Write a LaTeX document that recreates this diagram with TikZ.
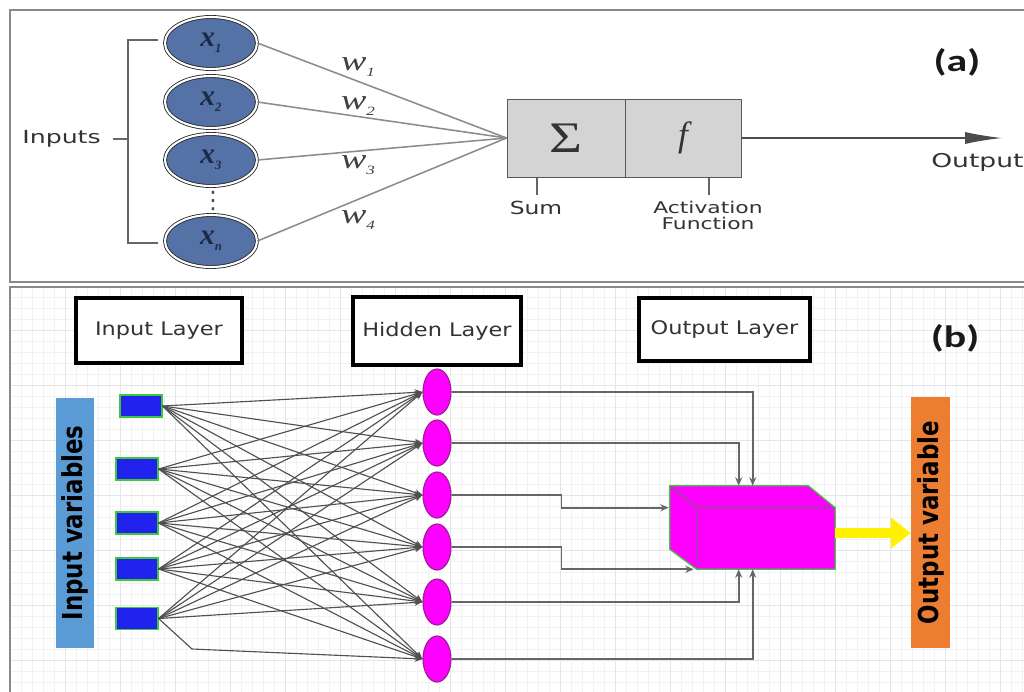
\documentclass[tikz,border=0pt]{standalone}
\usepackage{fontspec}
\setmainfont{DejaVu Sans}
\newfontfamily\carlfont{Carlito}
\newfontfamily\serfont{Liberation Serif}
\usetikzlibrary{arrows.meta,shapes.geometric,calc}
\definecolor{panelgray}{HTML}{8A8A8A}
\definecolor{nodeblue}{HTML}{5572A6}
\definecolor{xtext}{HTML}{1C2A48}
\definecolor{wirea}{HTML}{8C8C8C}
\definecolor{cellgray}{HTML}{D4D4D4}
\definecolor{sqblue}{HTML}{2222EE}
\definecolor{sqgreen}{HTML}{3CC83C}
\definecolor{hidmag}{HTML}{FF00FF}
\definecolor{hidedge}{HTML}{9A2090}
\definecolor{barblue}{HTML}{5B9BD5}
\definecolor{barorange}{HTML}{ED7D31}
\definecolor{wireb}{HTML}{505050}
\definecolor{gridminor}{HTML}{F2F2F2}
\definecolor{gridmajor}{HTML}{E6E6E6}
\definecolor{txt}{HTML}{333333}
\definecolor{boxedge}{HTML}{8A4E8A}
\newcommand{\myxs}[2]{\scalebox{#1}[1]{#2}}
\newcommand{\mysz}[1]{\fontsize{#1}{#1}\selectfont}
\newcommand{\xlab}[1]{{\serfont\bfseries\itshape\mysz{21}x\raisebox{-0.45ex}{\mysz{9}#1}}}
\newcommand{\wlab}[1]{\myxs{1.35}{\serfont\itshape\mysz{20}w\raisebox{-0.45ex}{\mysz{9}#1}}}
\tikzset{
  panelline/.style={draw=panelgray, line width=1.6pt},
  xin/.style={shape=ellipse, minimum width=2.3cm, minimum height=1.3cm, fill=nodeblue, draw=black!85, line width=0.6pt, double=white, double distance=1.5pt, inner sep=0pt, text=xtext},
  wa/.style={draw=wirea, line width=1.1pt},
  cellbox/.style={shape=rectangle, fill=cellgray, draw=black!65, line width=0.7pt, minimum height=1.95cm, inner sep=0pt, text=txt},
  tickline/.style={draw=black!60, line width=0.9pt},
  lbla/.style={text=txt, inner sep=0pt},
  wlbl/.style={text=black!75, inner sep=0pt},
  layerbox/.style={draw=black, line width=2.2pt, fill=white, minimum height=1.625cm, inner sep=0pt, text=txt},
  sqnode/.style={shape=rectangle, fill=sqblue, draw=sqgreen, line width=0.8pt, minimum width=1.05cm, minimum height=0.55cm, inner sep=0pt},
  hidnode/.style={shape=ellipse, fill=hidmag, draw=hidedge, line width=0.8pt, minimum width=0.7cm, minimum height=1.15cm, inner sep=0pt},
  wb/.style={draw=wireb, line width=0.8pt, -{Stealth[length=5.5pt,width=4.5pt]}},
  wo/.style={draw=black!60, line width=1.2pt, -{Stealth[length=6pt,width=5pt]}},
  barnode/.style={shape=rectangle, minimum width=6.25cm, minimum height=0.97cm, inner sep=0pt, rotate=90, text=black},
}
\begin{document}
\begin{tikzpicture}[x=0.025cm,y=-0.025cm]
\useasboundingbox (0,0) rectangle (1024,691);
\clip (0,0) rectangle (1024,691);
\fill[white] (0,0) rectangle (1024,691);

% ---------- panel (a) ----------
\draw[panelline] (1040,10) -- (10,10) -- (10,282) -- (1040,282);

\node[xin] (x1) at (211,43) {\xlab{1}};
\node[xin] (x2) at (211,102) {\xlab{2}};
\node[xin] (x3) at (211,160) {\xlab{3}};
\node[xin] (xn) at (211,241) {\xlab{n}};
\node[text=black!70, inner sep=0pt] (dots) at (213,201) {\mysz{17}⋮};

\coordinate (bt) at (158,40);
\coordinate (bb) at (158,243);
\draw[tickline] (bt) -- (128,40) -- (128,243) -- (bb);
\coordinate (bm) at (128,139);
\coordinate (bl) at (113,139);
\draw[tickline] (bm) -- (bl);
\node[lbla, anchor=east] (inp) at (101,139) {\myxs{1.4}{\mysz{12.8}Inputs}};

\node[cellbox, minimum width=2.95cm] (sc) at (566,138) {\myxs{1.3}{\serfont\mysz{31}Σ}};
\node[cellbox, minimum width=2.9cm] (ac) at (683,138) {\serfont\itshape\mysz{25}f};

\draw[wa] (x1.east) -- (sc.west);
\draw[wa] (x2.east) -- (sc.west);
\draw[wa] (x3.east) -- (sc.west);
\draw[wa] (xn.east) -- (sc.west);

\node[wlbl] (w1) at (358,67) {\wlab{1}};
\node[wlbl] (w2) at (358,106) {\wlab{2}};
\node[wlbl] (w3) at (358,165) {\wlab{3}};
\node[wlbl] (w4) at (358,220) {\wlab{4}};

\coordinate (st) at (537,195);
\draw[tickline] (sc.south -| st) -- (st);
\node[lbla] (sum) at (536,208) {\myxs{1.3}{\mysz{12.8}Sum}};
\coordinate (at) at (709,195);
\draw[tickline] (ac.south -| at) -- (at);
\node[lbla] (act1) at (708,207) {\myxs{1.35}{\mysz{11.5}Activation}};
\node[lbla] (act2) at (708,223) {\myxs{1.35}{\mysz{11.5}Function}};

\coordinate (outa) at (1002,138);
\draw[draw=black!70, line width=1pt, -{Latex[length=0.92cm,width=0.3cm]}] (ac.east) -- (outa);
\node[lbla, anchor=west] (outl) at (931,162) {\myxs{1.4}{\mysz{13.5}Output}};

\node[inner sep=0pt, text=black!90] (la) at (957,62) {\myxs{1.35}{\carlfont\bfseries\mysz{22}(a)}};

% ---------- panel (b) ----------
\begin{scope}
\clip (11,288) rectangle (1024,691);
\draw[gridminor, line width=0.4pt, xshift=0.25cm] (-10,280) grid[step=0.275cm] (1040,700);
\draw[gridmajor, line width=0.5pt, xshift=0.25cm] (-10,280) grid[step=1.375cm] (1040,700);
\end{scope}
\draw[panelline] (1040,287) -- (10,287) -- (10,700);

\node[layerbox, minimum width=4.15cm] (il) at (159,330.5) {\myxs{1.2}{\mysz{13.3}Input Layer}};
\node[layerbox, minimum width=4.2cm, minimum height=1.7cm] (hl) at (437,331) {\myxs{1.2}{\mysz{13.3}Hidden Layer}};
\node[layerbox, minimum width=4.275cm, minimum height=1.575cm] (ol) at (724.5,329.5) {\myxs{1.2}{\mysz{13.3}Output Layer}};
\node[inner sep=0pt, text=black!90] (lb) at (955,338) {\myxs{1.35}{\carlfont\bfseries\mysz{22}(b)}};

\node[barnode, fill=barblue] (iv) at (75,523) {\scalebox{1}[1.2]{\bfseries\mysz{16.3}Input variables}};
\node[barnode, fill=barorange] (ov) at (930.5,522.5) {\scalebox{1}[1.2]{\bfseries\mysz{16.3}Output variable}};

\node[sqnode] (i1) at (141,406) {};
\node[sqnode] (i2) at (137,469) {};
\node[sqnode] (i3) at (137,523) {};
\node[sqnode] (i4) at (137,569) {};
\node[sqnode] (i5) at (137,618.5) {};

\node[hidnode] (h1) at (437,392) {};
\node[hidnode] (h2) at (437,443) {};
\node[hidnode] (h3) at (437,495) {};
\node[hidnode] (h4) at (437,547) {};
\node[hidnode] (h5) at (437,602) {};
\node[hidnode] (h6) at (437,659) {};

\foreach \i in {1,...,4}{
  \foreach \j in {1,...,6}{
    \draw[wb] (i\i.east) -- (h\j.west);
  }
}
\foreach \j in {1,...,5}{
  \draw[wb] (i5.east) -- (h\j.west);
}
\coordinate (k5) at (192,649);
\draw[wb] (i5.east) -- (k5) -- (h6.west);

% output cuboid
\node[shape=rectangle, fill=hidmag, minimum width=3.45cm, minimum height=1.525cm, inner sep=0pt] (ob) at (766,538.5) {};
\coordinate (tbl) at ($(ob.north west)+(-27,-22)$);
\coordinate (tbr) at ($(ob.north east)+(-27,-22)$);
\coordinate (lbb) at ($(ob.south west)+(-27,-20)$);
\fill[hidmag] (tbl) -- (tbr) -- (ob.north east) -- (ob.north west) -- cycle;
\fill[hidmag] (tbl) -- (ob.north west) -- (ob.south west) -- (lbb) -- cycle;
\draw[boxedge, line width=1pt] (tbl) -- (ob.north west) -- (ob.north east);
\draw[boxedge, line width=1pt] (ob.north west) -- (ob.south west);
\draw[sqgreen, line width=0.9pt] (tbl) -- (tbr) -- (ob.north east) -- (ob.south east) -- (ob.south west) -- (lbb) -- cycle;

\draw[wo] (h1.east) -| ($(ob.north west)+(56,-22)$);
\draw[wo] (h2.east) -| ($(ob.north west)+(42,-22)$);
\draw[wo] (h3.east) -- ++(110,0) |- ($(ob.north west)+(-28,0)$);
\draw[wo] (h4.east) -- ++(110,0) |- ($(ob.south west)+(-3,0)$);
\draw[wo] (h5.east) -| ($(ob.south west)+(42,0)$);
\draw[wo] (h6.east) -| ($(ob.south west)+(56,0)$);

\draw[yellow, line width=0.25cm, -{Triangle[length=0.5cm,width=0.75cm]}] ($(ob.east)+(0,-5.5)$) -- ($(ob.east -| ov.north)+(0,-5.5)$);
\end{tikzpicture}
\end{document}
